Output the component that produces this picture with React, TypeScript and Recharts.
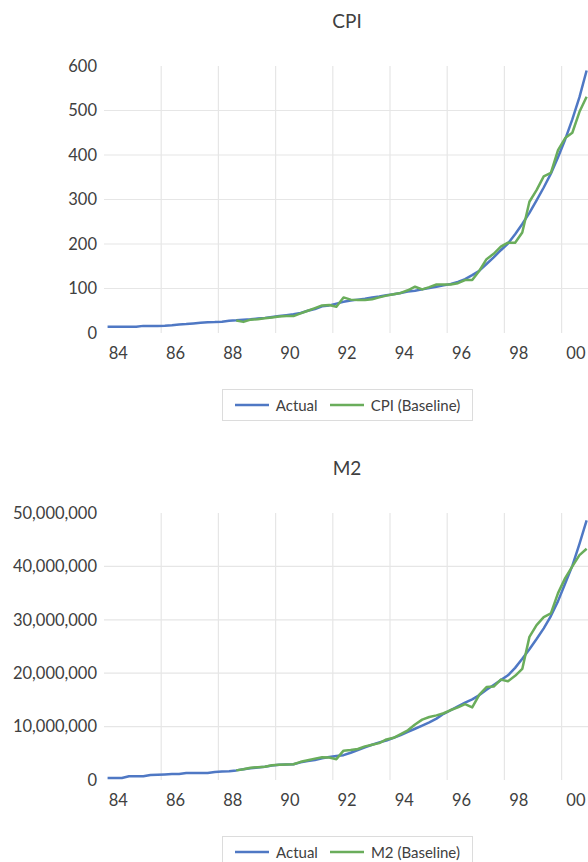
import React from 'react';
import { LineChart, Line, XAxis, YAxis, ReferenceLine, Legend } from 'recharts';

// quarterly observations, 1983Q3 .. 2000Q2
const yearLabels = ['84', '86', '88', '90', '92', '94', '96', '98', '00'];

const cpiActual = [
  14, 14, 14, 14, 14, 16, 16, 16, 16.5, 17.5,
  19, 20, 21.5, 23, 24, 24.5, 25.5, 27.5, 28.5, 30,
  31, 32.5, 34, 36, 38, 40, 42, 45, 50, 54,
  60, 62, 66, 70, 73, 75, 77, 80, 82, 85,
  87, 90, 93, 95, 98, 101, 104, 107, 110, 115,
  121, 130, 140, 155, 170, 186, 201, 222, 245, 270,
  298, 327, 358, 395, 435, 480, 530, 590,
];

const cpiBaseline = [
  null, null, null, null, null, null, null, null, null, null,
  null, null, null, null, null, null, null, null, 28, 25,
  30, 31, 33, 35, 37, 38, 38, 44, 50, 56,
  62, 63, 59, 80, 75, 74, 74, 76, 80, 84,
  87, 90, 96, 104, 98, 103, 109, 109, 109, 112,
  119, 119, 140, 166, 178, 194, 203, 203, 226, 295,
  321, 352, 360, 411, 438, 450, 497, 531,
];

const m2Actual = [
  370000, 370000, 370000, 690000, 690000, 690000, 950000, 1000000, 1050000, 1120000,
  1120000, 1300000, 1300000, 1300000, 1300000, 1500000, 1600000, 1650000, 1800000, 2000000,
  2200000, 2350000, 2500000, 2700000, 2850000, 2900000, 2950000, 3300000, 3550000, 3750000,
  4050000, 4300000, 4500000, 4650000, 5100000, 5600000, 6100000, 6600000, 7050000, 7400000,
  7900000, 8400000, 9000000, 9600000, 10200000, 10800000, 11500000, 12400000, 13100000, 13800000,
  14500000, 15100000, 15900000, 16900000, 17800000, 18700000, 19600000, 21000000, 22700000, 24500000,
  26400000, 28400000, 30700000, 33500000, 36800000, 40100000, 44200000, 48600000,
];

const m2Baseline = [
  null, null, null, null, null, null, null, null, null, null,
  null, null, null, null, null, null, null, null, 1800000, 2000000,
  2300000, 2400000, 2500000, 2750000, 2850000, 2900000, 2950000, 3400000, 3700000, 4000000,
  4250000, 4200000, 3900000, 5500000, 5600000, 5800000, 6300000, 6600000, 6900000, 7600000,
  7900000, 8600000, 9300000, 10400000, 11300000, 11800000, 12100000, 12500000, 13100000, 13600000,
  14200000, 13600000, 16000000, 17400000, 17500000, 18800000, 18500000, 19500000, 20800000, 26800000,
  29000000, 30500000, 31200000, 35000000, 37800000, 40000000, 42100000, 43300000,
];

const cpiTicks = [0, 100, 200, 300, 400, 500, 600];
const m2Ticks = [0, 10000000, 20000000, 30000000, 40000000, 50000000];

const BLUE = '#4f78c4';
const GREEN = '#6aad5b';
const GRID = '#e6e6e6';
const TEXT = '#404040';

// label ticks and gridlines sit on different positions, like the Excel original
const labelTicks = yearLabels.map((_, k) => 1.5 + 8 * k);
const gridX = [1, 2, 3, 4, 5, 6, 7, 8].map((k) => 8 * k - 0.5);

const LegendBox = ({ payload }: any) => (
  <div
    style={{
      display: 'flex',
      alignItems: 'center',
      justifyContent: 'center',
      height: 32,
      border: '1px solid #dcdcdc',
      boxSizing: 'border-box',
      fontSize: 15,
      color: TEXT,
    }}
  >
    {(payload || []).map((p: any, idx: number) => (
      <span key={p.value} style={{ display: 'flex', alignItems: 'center', marginLeft: idx ? 12 : 0 }}>
        <svg width={34} height={4}>
          <line x1={0} y1={2} x2={34} y2={2} stroke={p.color} strokeWidth={2.5} />
        </svg>
        <span style={{ marginLeft: 7 }}>{p.value}</span>
      </span>
    ))}
  </div>
);

interface PanelProps {
  top: number;
  title: string;
  actual: (number | null)[];
  baseline: (number | null)[];
  baselineName: string;
  ticks: number[];
  fmt?: (v: number) => string;
}

const Panel: React.FC<PanelProps> = ({ top, title, actual, baseline, baselineName, ticks, fmt }) => {
  const rows = actual.map((v, i) => ({ i, actual: v, baseline: baseline[i] }));
  const max = ticks[ticks.length - 1];
  return (
    <div style={{ position: 'absolute', top, left: 0, width: 640, height: 447 }}>
      <div
        style={{
          position: 'absolute',
          top: 10,
          left: 247,
          width: 200,
          textAlign: 'center',
          fontSize: 19,
          lineHeight: '22px',
          color: TEXT,
        }}
      >
        {title}
      </div>
      <LineChart width={640} height={447} data={rows} margin={{ top: 66, right: 49.8, bottom: 84, left: 0 }}>
        <XAxis
          dataKey="i"
          type="number"
          domain={[-0.5, 67.5]}
          ticks={labelTicks}
          interval={0}
          allowDataOverflow
          tickFormatter={(v: number) => yearLabels[Math.round((v - 1.5) / 8)]}
          axisLine={false}
          tickLine={false}
          tickSize={0}
          tickMargin={14}
          height={30}
          tick={{ fill: TEXT, fontSize: 16.5 }}
        />
        <YAxis
          type="number"
          domain={[0, max]}
          ticks={ticks}
          interval={0}
          width={104}
          axisLine={false}
          tickLine={false}
          tickSize={0}
          tickMargin={7}
          tickFormatter={fmt}
          tick={{ fill: TEXT, fontSize: 16.5 }}
        />
        {ticks.slice(1, -1).map((t) => (
          <ReferenceLine key={'h' + t} y={t} stroke={GRID} strokeWidth={1.2} />
        ))}
        {gridX.map((x) => (
          <ReferenceLine key={'v' + x} x={x} stroke={GRID} strokeWidth={1.2} />
        ))}
        <Legend
          layout="horizontal"
          verticalAlign="middle"
          align="center"
          content={<LegendBox />}
          wrapperStyle={{ top: 389, left: 222, width: 251, height: 32 }}
        />
        <Line
          type="linear"
          dataKey="actual"
          name="Actual"
          stroke={BLUE}
          strokeWidth={2.5}
          dot={false}
          strokeLinejoin="round"
          isAnimationActive={false}
        />
        <Line
          type="linear"
          dataKey="baseline"
          name={baselineName}
          stroke={GREEN}
          strokeWidth={2.5}
          dot={false}
          strokeLinejoin="round"
          isAnimationActive={false}
        />
      </LineChart>
    </div>
  );
};

export default function App() {
  return (
    <div
      style={{
        position: 'absolute',
        top: 0,
        left: 0,
        width: 588,
        height: 862,
        overflow: 'hidden',
        background: '#fff',
        fontFamily: 'Lato, "Open Sans", sans-serif',
      }}
    >
      <Panel
        top={0}
        title="CPI"
        actual={cpiActual}
        baseline={cpiBaseline}
        baselineName="CPI (Baseline)"
        ticks={cpiTicks}
      />
      <Panel
        top={447}
        title="M2"
        actual={m2Actual}
        baseline={m2Baseline}
        baselineName="M2 (Baseline)"
        ticks={m2Ticks}
        fmt={(v: number) => v.toLocaleString('en-US')}
      />
    </div>
  );
}
